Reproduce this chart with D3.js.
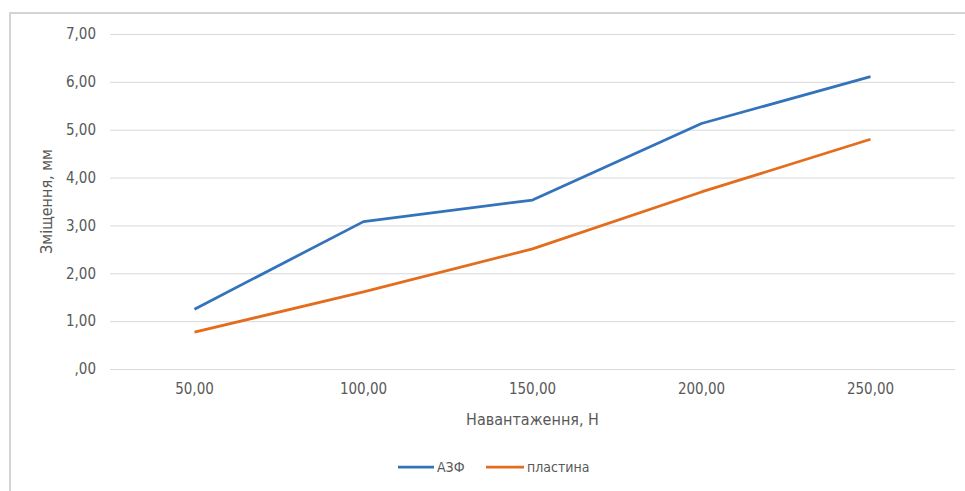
<!DOCTYPE html>
<html>
<head>
<meta charset="utf-8">
<script src="https://cdn.jsdelivr.net/npm/d3@7"></script>
<style>
  html, body { margin: 0; padding: 0; background: #fff; }
  svg text { font-family: "Liberation Sans Narrow", "DejaVu Sans Condensed", "Open Sans", sans-serif; fill: #595959; }
</style>
</head>
<body>
<svg id="chart" width="965" height="491"></svg>
<script>
// Load (N) categories and displacement (mm) per specimen type
const loads = ["50,00", "100,00", "150,00", "200,00", "250,00"];
const azf = [1.25, 3.08, 3.53, 5.13, 6.11];
const plate = [0.77, 1.61, 2.51, 3.70, 4.80];
const yTicks = [0, 1, 2, 3, 4, 5, 6, 7];
const seriesNames = ["АЗФ", "пластина"];
const seriesColors = ["#3373bb", "#e46c1d"];

const svg = d3.select("#chart");

// outer chart frame
svg.append("rect")
  .attr("x", 10).attr("y", 13)
  .attr("width", 1000).attr("height", 1000)
  .attr("fill", "#fff").attr("stroke", "#d4d4d4").attr("stroke-width", 2);

const plotLeft = 110, plotRight = 955, plotTop = 34, plotBottom = 369;

const x = d3.scaleBand().domain(loads).range([plotLeft, plotRight]);
const y = d3.scaleLinear().domain([0, 7]).range([plotBottom, plotTop]);

const fmtY = v => v === 0 ? ",00" : d3.format(".2f")(v).replace(".", ",");

// horizontal gridlines + y labels
const yAxis = d3.axisLeft(y).tickValues(yTicks).tickFormat(fmtY)
  .tickSize(-(plotRight - plotLeft)).tickPadding(14);
const gy = svg.append("g").attr("transform", `translate(${plotLeft},0)`).call(yAxis);
gy.select(".domain").remove();
gy.selectAll(".tick line").attr("stroke", "#d9d9d9").attr("stroke-width", 1);
gy.selectAll(".tick text").style("font-size", "15px").attr("fill", "#595959");

// x labels
const xAxis = d3.axisBottom(x).tickSize(0).tickPadding(14);
const gx = svg.append("g").attr("transform", `translate(0,${plotBottom})`).call(xAxis);
gx.select(".domain").remove();
gx.selectAll(".tick text").style("font-size", "15px").attr("fill", "#595959");

// axis titles
svg.append("text")
  .attr("x", (plotLeft + plotRight) / 2).attr("y", 425)
  .attr("text-anchor", "middle")
  .style("font-size", "16px")
  .text("Навантаження, Н");

svg.append("text")
  .attr("transform", `translate(52,${(plotTop + plotBottom) / 2}) rotate(-90)`)
  .attr("text-anchor", "middle")
  .style("font-size", "16px")
  .text("Зміщення, мм");

// data lines
const line = d3.line()
  .x((d, i) => x(loads[i]) + x.bandwidth() / 2)
  .y(d => y(d));

[azf, plate].forEach((vals, k) => {
  svg.append("path")
    .datum(vals)
    .attr("d", line)
    .attr("fill", "none")
    .attr("stroke", seriesColors[k])
    .attr("stroke-width", 2.75)
    .attr("stroke-linejoin", "round");
});

// legend
const legendY = 467;
const legendItems = [{ x: 398, w: 36 }, { x: 486, w: 38 }];
seriesNames.forEach((name, k) => {
  const it = legendItems[k];
  svg.append("line")
    .attr("x1", it.x).attr("x2", it.x + it.w)
    .attr("y1", legendY).attr("y2", legendY)
    .attr("stroke", seriesColors[k]).attr("stroke-width", 2.75);
  svg.append("text")
    .attr("x", it.x + it.w + 3).attr("y", legendY + 5)
    .style("font-size", "14px")
    .text(name);
});
</script>
</body>
</html>
